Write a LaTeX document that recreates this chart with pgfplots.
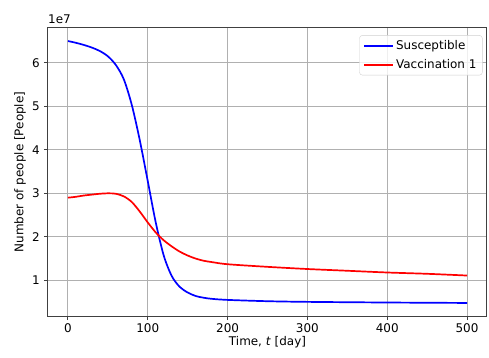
\documentclass[border=0pt]{standalone}
\usepackage{fontspec}
\setmainfont{DejaVu Sans}
\usepackage{pgfplots}
\pgfplotsset{compat=1.18}
\definecolor{gridc}{HTML}{B0B0B0}
\definecolor{spine}{HTML}{404040}
\begin{document}
\fontsize{12}{14}\selectfont
\begin{tikzpicture}[x=1bp,y=1bp]
\path (-48bp,-42bp) rectangle (441bp,316bp);
\begin{axis}[
  scale only axis,
  width=439bp, height=288bp,
  at={(0,0)}, anchor=south west,
  xmin=-25, xmax=525, ymin=0.18, ymax=6.80,
  xtick={0,100,200,300,400,500},
  ytick={1,2,3,4,5,6},
  /pgf/number format/assume math mode=true,
  ticklabel style={font=\fontsize{12}{14}\selectfont},
  xticklabel style={yshift=1bp},
  tick align=outside,
  major tick length=4.2bp,
  tick style={spine, line width=1bp},
  xtick pos=bottom, ytick pos=left,
  axis line style={spine, line width=1bp},
  grid=major,
  major grid style={gridc, line width=1bp},
  xlabel={Time, \textit{t} [day]},
  ylabel={Number of people [People]},
  label style={font=\fontsize{12}{14}\selectfont},
  xlabel style={yshift=4bp},
  ylabel style={yshift=-2bp},
  legend style={at={(0.99,0.975)}, anchor=north east, draw=gridc!60, fill=white, fill opacity=0.8, text opacity=1, rounded corners=3bp, font=\fontsize{12}{14}\selectfont, inner xsep=4bp, inner ysep=3bp, row sep=4bp, nodes={inner sep=2bp}},
  legend cell align=left,
  legend image code/.code={\draw[#1] (0bp,0bp) -- (29bp,0bp);},
]
\addplot[blue, line width=1.7bp, smooth] coordinates {
(0,6.50) (10,6.46) (20,6.41) (30,6.35) (40,6.27) (50,6.15) (60,5.95) (70,5.62) (80,5.03) (90,4.22) (100,3.28) (110,2.33) (120,1.57) (130,1.10) (140,0.85) (150,0.72) (160,0.64) (170,0.60) (180,0.575) (200,0.55) (250,0.52) (300,0.505) (400,0.49) (500,0.48)
};
\addlegendentry{Susceptible}
\addplot[red, line width=1.7bp, smooth] coordinates {
(0,2.90) (10,2.92) (20,2.95) (30,2.97) (40,2.99) (50,3.00) (60,2.99) (70,2.93) (80,2.80) (90,2.58) (100,2.33) (110,2.10) (120,1.92) (130,1.78) (140,1.66) (150,1.57) (160,1.50) (170,1.45) (180,1.42) (200,1.37) (250,1.31) (300,1.26) (350,1.22) (400,1.18) (450,1.15) (500,1.11)
};
\addlegendentry{Vaccination 1}
\end{axis}
\node[anchor=south west, inner sep=0pt, font=\fontsize{12}{14}\selectfont] at (0bp,292bp) {1e7};
\end{tikzpicture}
\end{document}
